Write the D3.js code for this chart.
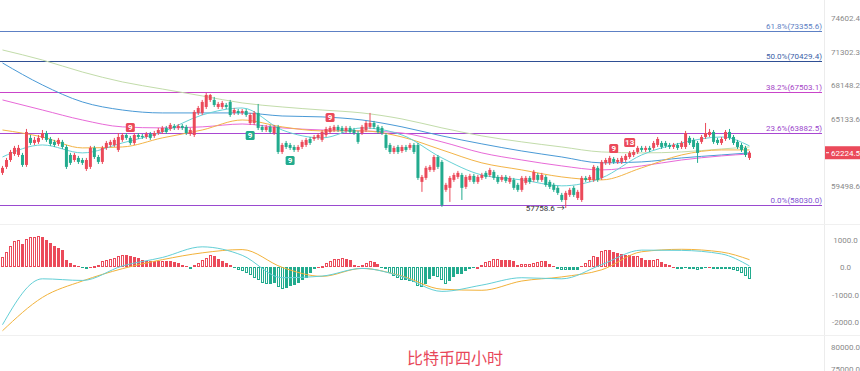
<!DOCTYPE html>
<html>
<head>
<meta charset="utf-8">
<script src="https://cdn.jsdelivr.net/npm/d3@7"></script>
<style>
  html, body { margin: 0; padding: 0; background: #fff; }
  svg { display: block; font-family: Roboto, "Noto Sans CJK SC", sans-serif; }
</style>
</head>
<body>
<div id="chart"></div>
<script>
// 比特币 4H: candles + MA + fib levels, MACD below

// [open, high, low, close]
const ohlc = [
  [60560,61130,60390,60970],[61050,61790,60880,61620],[61620,62460,61460,62290],[62120,62800,61960,62630],
  [62040,62880,61870,62630],[62040,62210,61050,61210],[61210,64250,61050,63990],[63480,63730,62880,63050],
  [63050,63560,62880,63310],[63140,63730,62970,63480],[63480,64160,63310,63900],[63900,64080,63140,63310],
  [63390,63560,62800,62970],[63140,63310,62710,62880],[62970,63480,62800,63310],[63140,63310,62540,62710],
  [62710,62880,60880,61050],[62040,62210,61210,61380],[61620,62210,61460,62040],[61790,61960,61290,61460],
  [61620,61790,61210,61380],[60880,61790,60720,61620],[61050,62800,60880,62630],[62630,62800,61710,61870],
  [61870,62040,61290,61460],[61460,62800,61290,62630],[62630,63220,62460,63050],[62880,63310,62710,63140],
  [62880,63480,62710,63310],[62460,63900,62290,63560],[63310,63900,63140,63730],[63730,63900,63310,63480],
  [63480,63650,62880,63050],[63050,63900,62880,63730],[63730,63900,63390,63560],[63650,63820,63390,63560],
  [63560,63990,63390,63820],[63820,63990,63310,63480],[63650,64080,63480,63900],[63900,64340,63730,64160],
  [63990,64510,63820,64340],[64340,64510,63820,63990],[64250,64770,64080,64600],[64510,64680,64160,64340],
  [64340,64680,64160,64510],[64510,64680,64160,64340],[64430,64600,63730,63900],[63820,64340,63650,64160],
  [63730,65910,63560,65740],[65650,66270,65470,66090],[65650,66810,65470,66630],[66180,67440,66000,67260],
  [66810,67350,66630,67260],[66810,67080,66180,66360],[66180,66630,66000,66450],[66180,66720,66000,66540],
  [66360,66540,66000,66180],[66630,66810,65300,65470],[65650,66090,65470,65910],[65820,66000,65470,65650],
  [65650,66000,65470,65820],[65820,66000,65300,65470],[64770,65650,64600,65470],[64770,65820,64600,65650],
  [65650,66450,64160,64340],[64430,64600,63990,64160],[64160,64600,63990,64430],[64430,64600,63820,63990],
  [63900,64600,63730,64430],[64430,64600,62120,62290],[62290,63050,62120,62880],[63050,63220,62540,62710],
  [62880,63050,62460,62630],[62710,62880,62290,62460],[62460,62880,62290,62710],[62710,63310,62540,63140],
  [62880,63480,62710,63310],[63390,63560,62880,63050],[63390,63730,63220,63560],[63480,63900,63310,63730],
  [63310,64160,63140,63990],[63730,64430,63560,64250],[63990,64510,63820,64340],[64160,64600,63990,64430],
  [64430,64600,63990,64160],[64340,64510,63900,64080],[64080,64510,63900,64340],[64340,64510,63820,63990],
  [64160,64340,63730,63900],[63900,64080,62970,63140],[63900,64600,63730,64430],[64160,64950,63990,64770],
  [64430,65650,64250,64770],[64770,64950,64250,64430],[64430,64600,63820,63990],[64340,64510,63730,63900],
  [63730,63900,62460,62630],[62880,63050,62120,62290],[62290,62800,62120,62630],[62710,62880,62120,62290],
  [62370,62880,62210,62710],[62710,62880,62290,62460],[62630,63050,62460,62880],[62880,63050,62120,62290],
  [62880,63050,59990,60150],[59830,60390,59030,60230],[60150,61130,59990,60970],[60800,61210,60640,61050],
  [60800,62040,60640,61870],[61870,62040,60880,61050],[61460,61620,57850,58000],[59190,59750,59030,59590],
  [59350,60310,58240,60150],[59990,60560,59830,60390],[60230,60720,60070,60560],[60390,60560,58390,59350],
  [59430,60390,59260,60230],[59990,60480,59830,60310],[60310,60480,59670,59830],[59830,60390,59670,60230],
  [60150,60560,59990,60390],[60560,60720,60070,60230],[60390,60970,60230,60800],[60640,60800,59990,60150],
  [60230,60390,59670,59830],[59990,60390,59830,60230],[60230,60390,59750,59910],[59830,60310,59670,60150],
  [59990,60150,59190,59350],[59590,59750,59030,59190],[59190,60310,59030,60150],[59750,60310,59590,60150],
  [60150,60310,59670,59830],[59990,60800,59830,60640],[60390,60560,59830,59990],[59990,60560,59830,60390],
  [60230,60390,59430,59590],[59830,59990,59260,59430],[59590,59750,59030,59190],[59350,59510,58790,58950],
  [58790,58950,58240,58390],[58390,59110,57758.6,58950],[58790,59350,58630,59190],[59350,59510,58630,58790],
  [58550,59190,58390,59030],[58390,60310,58240,60150],[60150,60310,59830,59990],[59990,60390,59830,60230],
  [59990,61210,59830,61050],[60970,61130,59830,59990],[60150,61620,59990,61460],[61380,61790,61210,61620],
  [61380,61960,61210,61790],[61710,61870,61290,61460],[61460,61790,61290,61620],[61460,61960,61290,61790],
  [61620,62120,61460,61960],[61870,62370,61710,62210],[62040,62460,61870,62290],[62290,62800,62120,62630],
  [62630,62800,62290,62460],[62460,62800,62290,62630],[62630,62800,62290,62460],[62630,63220,62460,63050],
  [62880,63560,62710,63390],[63050,63220,62540,62710],[63050,63220,62630,62800],[62880,63050,62540,62710],
  [62710,63050,62540,62880],[62880,63050,62460,62630],[62710,63220,62540,63050],[62710,64080,62540,63900],
  [63480,63650,62880,63050],[63310,63480,62540,62710],[63050,63220,61380,62210],[63140,63730,62970,63560],
  [63560,64770,63390,63900],[63730,64250,63560,63990],[63990,64160,62970,63140],[63310,63480,62880,63050],
  [63050,63560,62880,63390],[63390,64160,63220,63990],[63990,64250,63310,63480],[63560,63730,62880,63050],
  [63140,63310,62540,62710],[62880,63050,62290,62460],[62630,62800,61870,62040],[61790,62370,61620,62224.5]
];

// moving averages, read every 10 bars
const maIdx    = [0,10,20,30,40,50,60,70,80,90,100,110,120,130,140,150,160,170,180,187];
const maGreen  = [71460,70500,69370,68450,67800,67170,66540,66180,65910,65650,65120,64340,63650,63140,62710,62290,62210,62290,62540,62710];
const maBlue   = [70220,68170,66630,65910,65650,65650,65650,65380,65300,65030,64430,63650,62970,62370,61870,61380,61460,61790,62040,62210];
const maPink   = [66810,65910,65030,64430,64340,64430,64680,64340,64160,64080,63900,63140,62210,61620,61130,60800,61130,61620,61960,62120];
const maOrange = [64160,63560,62630,62710,63480,64160,65030,64430,64080,64080,63560,62460,61380,60800,60230,59990,60970,62040,62460,62460];
const maCyan   = [61870,62880,62210,63050,63990,65470,66090,64160,63480,64340,63730,61790,60390,59990,59510,60150,62040,63050,63560,62800];

// fibonacci levels
const fibPct    = ["61.8%", "50.0%", "38.2%", "23.6%", "0.0%"];
const fibPrice  = [73355.6, 70429.4, 67503.1, 63882.5, 58030.0];
const fibColors = ["#5d80c4", "#2f4f94", "#c944c9", "#a947d2", "#9a4ad0"];
const fibText   = ["#5d80c4", "#3d5fa8", "#a544c6", "#9b45cc", "#7e52d2"];

const priceTicks = [74602.4, 71302.3, 68148.2, 65133.6, 59498.6];
const lastPrice = 62224.5;
const lowPrice = 57758.6;
const lowIdx = 141;

// TD sequential marks: [bar, text, side]
const tdMarks = [[32,"9","up"],[62,"9","down"],[72,"9","down"],[82,"9","up"],[153,"9","up"],[157,"13","up"]];

// MACD
const macdHist = [
  380,560,780,950,990,840,1050,1100,1120,1130,1110,990,900,780,710,620,260,170,100,50,-20,-70,0,50,
  70,220,280,320,350,410,460,460,400,370,330,280,240,230,220,220,230,230,220,210,160,100,50,-50,
  100,170,260,350,460,410,290,220,150,70,-20,-90,-150,-210,-290,-390,-480,-560,-600,-600,-560,-720,-800,-760,
  -700,-640,-560,-480,-380,-200,-60,30,60,150,220,290,320,330,300,260,80,60,90,150,230,200,120,-20,
  -40,-200,-330,-400,-460,-460,-500,-520,-680,-720,-600,-420,-330,-350,-480,-600,-500,-350,-250,-240,-150,-60,-20,30,
  100,180,250,290,300,280,260,260,220,90,110,120,140,170,200,230,220,120,60,-50,
  -100,-110,-110,-90,-90,50,150,280,400,380,600,650,650,560,510,480,440,440,400,410,330,270,260,280,
  300,200,140,80,20,-30,-50,-40,-60,-60,-100,-50,-30,10,-40,-70,-70,-70,-60,-90,-150,-220,-300,-440
];
const macdIdx = [0,10,20,30,40,50,60,70,80,90,100,110,120,130,140,150,160,170,180,187];
const dif = [-2100,-420,-480,50,360,750,440,-380,-320,-40,-340,-880,-650,-380,-420,100,630,620,490,50];
const dea = [-2320,-1100,-500,-50,280,530,650,0,-330,-40,-320,-800,-840,-500,-350,-90,570,660,560,280];
const macdTicks = [1000, 0, -1000, -2000];
const lowerTicks = [80000, 75000];

const title = "比特币四小时";

const UP = "#eb4a5a", DOWN = "#22ab8e";

const W = 860, H = 371, plotR = 824, axisX = 845.5;
const svg = d3.select("#chart").append("svg").attr("width", W).attr("height", H);

const x = d3.scaleBand().domain(d3.range(ohlc.length)).range([0, 752]).padding(0.25);
const cx = i => x(i) + x.bandwidth() / 2;
const y = d3.scaleLog().domain([59498.6, 74602.4]).range([186, 18]);
const ym = d3.scaleLinear().domain([-2000, 1000]).range([322, 240]);
const yl = d3.scaleLinear().domain([75000, 80000]).range([369, 347]);

// pane borders
svg.append("line").attr("x1", plotR + 0.5).attr("x2", plotR + 0.5).attr("y1", 0).attr("y2", H)
  .attr("stroke", "#ececec");
[224.5, 335.5].forEach(v => svg.append("line").attr("x1", 0).attr("x2", W).attr("y1", v).attr("y2", v)
  .attr("stroke", "#f0f0f0"));

// fib levels
const fib = svg.append("g");
fibPrice.forEach((p, k) => {
  const yy = Math.round(y(p)) + 0.5;
  fib.append("line").attr("x1", 0).attr("x2", plotR - 2).attr("y1", yy).attr("y2", yy)
    .attr("stroke", fibColors[k]).attr("stroke-width", 1);
  fib.append("text").attr("x", plotR - 2).attr("y", yy - 3).attr("text-anchor", "end")
    .attr("font-size", 8).attr("fill", fibText[k]).text(`${fibPct[k]}(${p.toFixed(1)})`);
});

// moving averages
const maLine = d3.line().x(d => cx(d[0])).y(d => y(d[1])).curve(d3.curveMonotoneX);
[[maGreen, "#c2dcaa"], [maBlue, "#4a9ad6"], [maPink, "#e86ad8"], [maOrange, "#f3b447"], [maCyan, "#66d2d6"]]
  .forEach(([vals, col]) => {
    svg.append("path").datum(maIdx.map((i, k) => [i, vals[k]]))
      .attr("d", maLine).attr("fill", "none").attr("stroke", col).attr("stroke-width", 1);
  });

// candles
const cg = svg.append("g");
ohlc.forEach((d, i) => {
  const [o, h, l, c] = d;
  const col = c >= o ? UP : DOWN;
  cg.append("line").attr("x1", cx(i)).attr("x2", cx(i)).attr("y1", y(h)).attr("y2", y(l))
    .attr("stroke", col).attr("stroke-width", 1);
  const top = y(Math.max(o, c)), bot = y(Math.min(o, c));
  cg.append("rect").attr("x", x(i)).attr("width", x.bandwidth())
    .attr("y", top).attr("height", Math.max(1, bot - top)).attr("fill", col);
});

// TD marks
tdMarks.forEach(([i, t, side]) => {
  const d = ohlc[i];
  const w = t.length > 1 ? 11 : 9, hh = 9;
  const yc = side === "up" ? y(d[1]) - 4 - hh / 2 : y(d[2]) + 6 + hh / 2;
  const col = side === "up" ? UP : DOWN;
  svg.append("rect").attr("x", cx(i) - w / 2).attr("y", yc - hh / 2).attr("width", w).attr("height", hh)
    .attr("rx", 1.5).attr("fill", col);
  svg.append("text").attr("x", cx(i)).attr("y", yc + 3).attr("text-anchor", "middle")
    .attr("font-size", 8).attr("font-weight", "bold").attr("fill", "#fff").text(t);
});

// lowest price marker
svg.append("text").attr("x", cx(lowIdx) - 1).attr("y", y(lowPrice) + 3).attr("text-anchor", "end")
  .attr("font-size", 8).attr("fill", "#333").text(`${lowPrice.toFixed(1)} →`);

// MACD histogram
const mg = svg.append("g").attr("shape-rendering", "crispEdges");
macdHist.forEach((v, i) => {
  const prev = i > 0 ? macdHist[i - 1] : 0;
  const hollow = Math.abs(v) > Math.abs(prev);
  const col = v >= 0 ? UP : DOWN;
  const y0 = ym(Math.max(v, 0)), y1 = ym(Math.min(v, 0));
  if (hollow) {
    mg.append("rect").attr("x", x(i) + 0.5).attr("width", x.bandwidth() - 1)
      .attr("y", y0 + 0.5).attr("height", Math.max(1, y1 - y0 - 1))
      .attr("fill", "#fff").attr("stroke", col).attr("stroke-width", 1);
  } else {
    mg.append("rect").attr("x", x(i)).attr("width", x.bandwidth())
      .attr("y", y0).attr("height", Math.max(1, y1 - y0)).attr("fill", col);
  }
});
const macdLine = d3.line().x(d => cx(d[0])).y(d => ym(d[1])).curve(d3.curveMonotoneX);
svg.append("path").datum(macdIdx.map((i, k) => [i, dea[k]])).attr("d", macdLine)
  .attr("fill", "none").attr("stroke", "#f2b23a").attr("stroke-width", 1);
svg.append("path").datum(macdIdx.map((i, k) => [i, dif[k]])).attr("d", macdLine)
  .attr("fill", "none").attr("stroke", "#63cfd6").attr("stroke-width", 1);

// right axes
function rightAxis(scale, ticks, fmt) {
  const g = svg.append("g").attr("transform", `translate(${axisX},0)`)
    .call(d3.axisRight(scale).tickValues(ticks).tickFormat(fmt).tickSize(0));
  g.select(".domain").remove();
  g.selectAll("text").attr("x", 0).attr("text-anchor", "middle")
    .attr("font-size", 8).attr("fill", "#8a8a8a").attr("font-family", "Roboto, sans-serif");
}
rightAxis(y, priceTicks, d => d.toFixed(1));
rightAxis(ym, macdTicks, d => d.toFixed(1));
rightAxis(yl, lowerTicks, d => d.toFixed(1));

// last price tag
const ly = y(lastPrice);
svg.append("rect").attr("x", plotR + 1).attr("y", ly - 6.5).attr("width", W - plotR).attr("height", 13)
  .attr("fill", UP);
svg.append("line").attr("x1", plotR + 2).attr("x2", plotR + 5).attr("y1", ly).attr("y2", ly)
  .attr("stroke", "#fff");
svg.append("text").attr("x", axisX).attr("y", ly + 3).attr("text-anchor", "middle")
  .attr("font-size", 8).attr("fill", "#fff").text(lastPrice.toFixed(1));

// title
svg.append("text").attr("x", 455).attr("y", 364).attr("text-anchor", "middle")
  .attr("font-size", 16).attr("fill", "#e8475a").attr("font-family", "'Noto Sans CJK SC', sans-serif")
  .text(title);
</script>
</body>
</html>
